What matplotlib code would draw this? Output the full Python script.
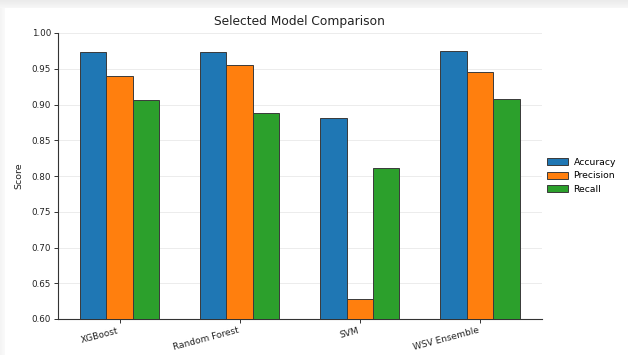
import numpy as np
import matplotlib
matplotlib.use("Agg")
import matplotlib.pyplot as plt

models = ["XGBoost", "Random Forest", "SVM", "WSV Ensemble"]
accuracy = [0.973, 0.973, 0.881, 0.975]
precision = [0.940, 0.955, 0.628, 0.945]
recall = [0.906, 0.888, 0.811, 0.907]
metric_names = ["Accuracy", "Precision", "Recall"]
metric_colors = ["#1f77b4", "#ff7f0e", "#2ca02c"]
y_ticks = [0.60, 0.65, 0.70, 0.75, 0.80, 0.85, 0.90, 0.95, 1.00]

fig = plt.figure(figsize=(6.28, 3.55), dpi=100, facecolor="white")

# soft page shadow along the top and left edges
top_band = fig.add_axes([0, 1 - 8 / 355, 1, 8 / 355])
top_band.imshow(np.linspace(0.92, 0.965, 20).reshape(-1, 1), cmap="gray",
                vmin=0, vmax=1, aspect="auto", extent=[0, 1, 0, 1])
top_band.axis("off")
left_band = fig.add_axes([0, 0, 5 / 628, 1 - 8 / 355])
left_band.imshow(np.linspace(0.955, 0.98, 10).reshape(1, -1), cmap="gray",
                 vmin=0, vmax=1, aspect="auto", extent=[0, 1, 0, 1])
left_band.axis("off")

ax = fig.add_axes([58 / 628, 1 - 319 / 355, (541.5 - 58) / 628, (319 - 33) / 355])

x = np.arange(len(models))
w = 0.22
for i, (vals, name, col) in enumerate(zip([accuracy, precision, recall],
                                          metric_names, metric_colors)):
    ax.bar(x + (i - 1) * w, vals, width=w, color=col, edgecolor="#3a3a3a",
           linewidth=0.7, label=name, zorder=3)

ax.set_ylim(0.60, 1.00)
ax.set_yticks(y_ticks)
ax.set_yticklabels([f"{t:.2f}" for t in y_ticks], fontsize=6.3, color="#222222")
ax.set_xticks(x)
ax.set_xticklabels(models, rotation=15, ha="right", fontsize=6.5, color="#222222")
ax.tick_params(axis="both", length=3, width=0.7, color="#333333", pad=2)
ax.yaxis.grid(True, color="#ececec", linewidth=0.7, zorder=0)
ax.set_axisbelow(True)
for s in ["top", "right"]:
    ax.spines[s].set_visible(False)
for s in ["left", "bottom"]:
    ax.spines[s].set_color("#333333")
    ax.spines[s].set_linewidth(0.8)

ax.set_ylabel("Score", fontsize=6.8, color="#222222", labelpad=6)
ax.set_title("Selected Model Comparison", fontsize=8.8, color="#222222", pad=6)
ax.legend(loc="center left", bbox_to_anchor=(0.995, 0.5), frameon=False,
          fontsize=6.7, handlelength=2.2, handleheight=0.8, labelspacing=0.5,
          handletextpad=0.6)

fig.savefig("out.png", dpi=100, facecolor="white")
